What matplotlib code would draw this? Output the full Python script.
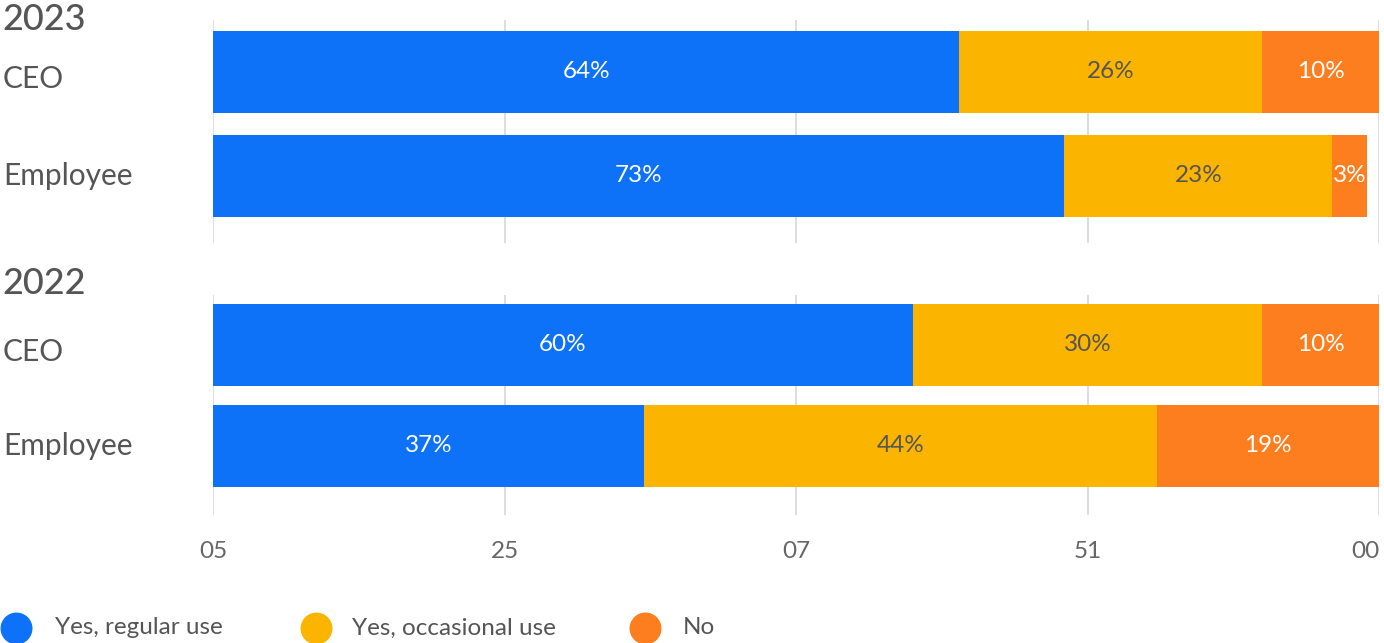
import matplotlib
matplotlib.use("Agg")
import matplotlib.pyplot as plt
from matplotlib.lines import Line2D
from matplotlib.transforms import blended_transform_factory, offset_copy

# Survey data: share of respondents using the tool, by year and role
years = ["2023", "2022"]
roles = ["CEO", "Employee"]
series_names = ["Yes, regular use", "Yes, occasional use", "No"]
regular_2023 = [64, 73]
occasional_2023 = [26, 23]
no_2023 = [10, 3]
regular_2022 = [60, 37]
occasional_2022 = [30, 44]
no_2022 = [10, 19]
tick_values = [0, 25, 50, 75, 100]
tick_labels = ["05", "25", "07", "51", "00"]

colors = ["#0E72F8", "#FBB501", "#FD7E1F"]
label_colors = ["white", "#555555", "white"]
text_gray = "#555555"
font = "Lato"

W, H = 1384, 643
fig = plt.figure(figsize=(W / 100, H / 100), dpi=100)
plt.rcParams["font.family"] = [font, "DejaVu Sans"]


def add_panel(top_px, bottom_px, unit_px, bar_px):
    ax = fig.add_axes([213 / W, 1 - bottom_px / H, 1166 / W, (bottom_px - top_px) / H])
    ax.set_xlim(0, 100)
    ax.set_ylim(-0.5 + (bottom_px - top_px) / unit_px, -0.5)
    return ax, bar_px / unit_px


panels = [
    (add_panel(20, 243, 104, 82), [regular_2023, occasional_2023, no_2023]),
    (add_panel(294.75, 515, 100.5, 82), [regular_2022, occasional_2022, no_2022]),
]

# vertical nudge (points, downward) for the role captions
role_nudge = [5, 0]

for (ax, bar_h), values in panels:
    ypos = list(range(len(roles)))
    left = [0] * len(roles)
    for vals, color, lc, name in zip(values, colors, label_colors, series_names):
        bars = ax.barh(ypos, vals, left=left, height=bar_h, color=color, label=name, zorder=2)
        ax.bar_label(bars, labels=[f"{v}%" for v in vals], label_type="center",
                     color=lc, fontsize=17.5, family=font)
        left = [a + b for a, b in zip(left, vals)]
    ax.set_xticks(tick_values)
    ax.grid(axis="x", color="#dddddd", linewidth=1.4, zorder=0)
    ax.set_axisbelow(True)
    for s in ax.spines.values():
        s.set_visible(False)
    ax.tick_params(length=0)
    ax.set_yticks([])
    ax.set_xticklabels([])
    trans = blended_transform_factory(fig.transFigure, ax.transData)
    for i, r in enumerate(roles):
        t = offset_copy(trans, fig=fig, y=-role_nudge[i], units="points")
        ax.text(3 / W, i, r, transform=t, ha="left", va="center",
                fontsize=21.5, color=text_gray, family=font)

# Year headings
for (ax, _), yr, ypx in zip(panels, years, [19, 283]):
    fig.text(2 / W, 1 - ypx / H, yr, ha="left", va="center", fontsize=26,
             color=text_gray, family=font, fontweight="medium")

# Shared x axis labels on the lower panel
ax_low = panels[1][0][0]
ax_low.set_xticklabels(tick_labels, fontsize=17.5, color="#666666", family=font)
ax_low.tick_params(axis="x", pad=19)
lbls = ax_low.get_xticklabels()
lbls[-1].set_ha("right")

# Legend along the bottom edge
legend_y = 1 - 628 / H
for name, color, mx, tx in zip(series_names, colors, [16, 316, 645], [55, 352, 683]):
    fig.add_artist(Line2D([mx / W], [legend_y], marker="o", markersize=22,
                          color=color, linestyle="none", transform=fig.transFigure))
    fig.text(tx / W, legend_y, name, ha="left", va="center", fontsize=17.5,
             color=text_gray, family=font)

fig.savefig("out.png", dpi=100)
